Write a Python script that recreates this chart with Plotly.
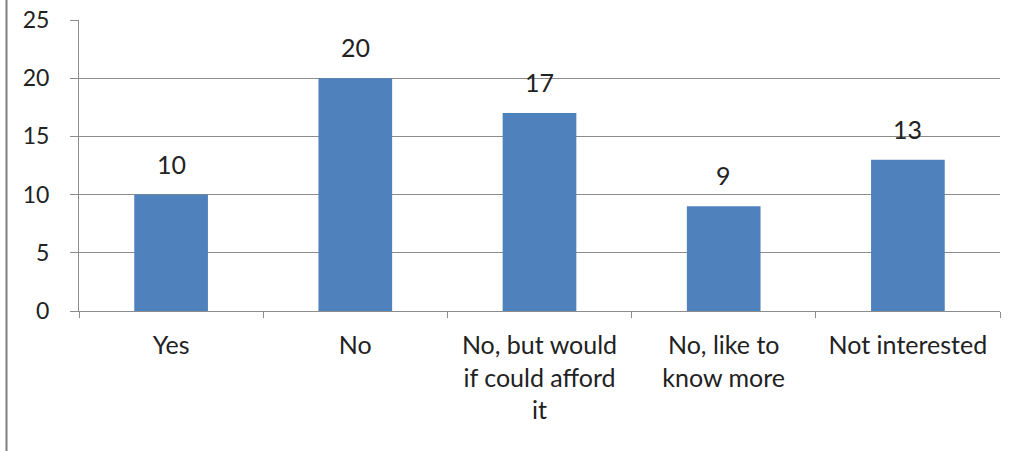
import plotly.graph_objects as go

categories = ["Yes", "No", "No, but would<br>if could afford<br>it", "No, like to<br>know more", "Not interested"]
values = [10, 20, 17, 9, 13]
y_ticks = [0, 5, 10, 15, 20, 25]

W, H = 1019, 451
L, R, T, B = 79, 19, 20, 140

fig = go.Figure(go.Bar(
    x=categories, y=values, marker=dict(color="#4F81BD", line=dict(width=0)),
    width=0.4, hoverinfo="x+y",
))

for c, v in zip(categories, values):
    fig.add_annotation(x=c, y=v, text=str(v), showarrow=False, yshift=31,
                       font=dict(size=25, color="#222222"))

grid = "#8c8c8c"
fig.update_layout(
    width=W, height=H, margin=dict(l=L, r=R, t=T, b=B, pad=0),
    paper_bgcolor="white", plot_bgcolor="white",
    font=dict(family="Lato, Open Sans, sans-serif", size=20, color="#222222"),
    showlegend=False,
    xaxis=dict(showline=True, linecolor=grid, linewidth=1, ticks="outside",
               tickson="boundaries", ticklen=6, tickcolor=grid,
               tickfont=dict(size=25), showgrid=False, automargin=False,
               ticklabelstandoff=12),
    yaxis=dict(range=[0, 25], tickvals=y_ticks, showline=True, linecolor=grid,
               linewidth=1, ticks="outside", ticklen=8, tickcolor=grid,
               showgrid=True, gridcolor=grid, gridwidth=1,
               tickfont=dict(size=23), zeroline=False, automargin=False,
               ticklabelstandoff=16),
    bargap=0.6,
    shapes=[dict(type="line", xref="paper", yref="paper",
                 x0=(6.5 - L) / (W - L - R), x1=(6.5 - L) / (W - L - R),
                 y0=-B / (H - T - B), y1=1 + T / (H - T - B),
                 line=dict(color="#7f7f7f", width=2))],
)

fig.write_html("out.html", config={"displayModeBar": False},
               post_script="document.body.style.margin='0';document.body.style.padding='0';")
